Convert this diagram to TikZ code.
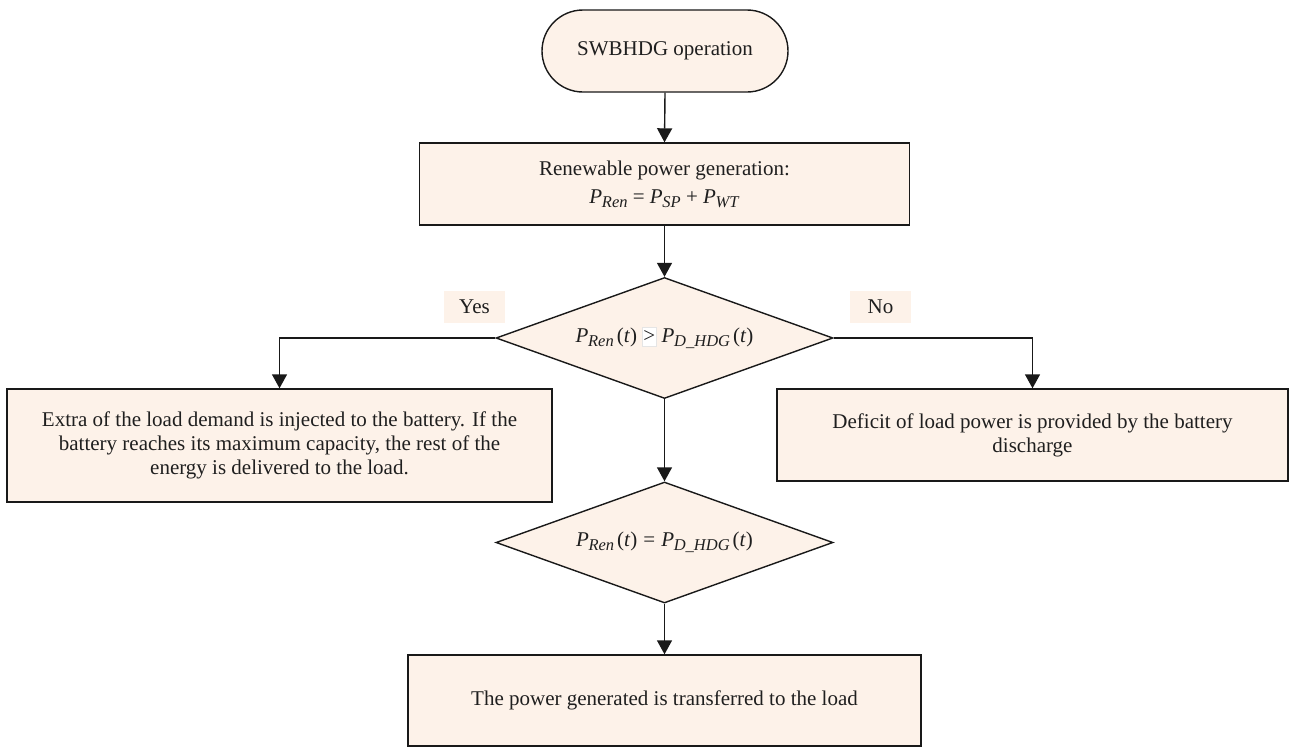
\documentclass[tikz,border=0pt]{standalone}
\usepackage{fontspec}
\setmainfont{Liberation Serif}
\usetikzlibrary{shapes.geometric,shapes.misc,arrows.meta}
\definecolor{peach}{RGB}{253,242,233}
\newcommand\Pv[1]{\textit{P}\kern-0.3pt\raisebox{-0.4ex}{\fontsize{16.5}{16.5}\selectfont\textit{#1}}}
\begin{document}
\begin{tikzpicture}[x=1pt,y=-1pt,
  every node/.style={font=\fontsize{21}{24}\selectfont, text=black!88},
  shp/.style={draw=black!90, line width=1.4pt, fill=peach, inner sep=0pt, align=center},
  proc/.style={shp, rectangle},
  dec/.style={shp, diamond, aspect=2.78},
  term/.style={shp, rounded rectangle},
  lbl/.style={fill=peach, inner sep=0pt, minimum width=61, minimum height=32},
  arr/.style={line width=1.4pt, draw=black!90, -{Triangle[length=14pt,width=15pt]}}]
\useasboundingbox (0,0) rectangle (1289,747);
\node[term, minimum width=246, minimum height=82] (start) at (665,51) {SWBHDG operation};
\node[proc, minimum width=490, minimum height=82] (ren) at (664.5,184)
  {Renewable power generation:\\[4pt] \Pv{Ren} = \Pv{SP} + \Pv{WT}};
\node[dec, minimum width=337, minimum height=121] (d1) at (664.5,338)
  {\Pv{Ren}\hspace{3pt}(\textit{t})\hspace{5pt}\fcolorbox{black!10}{white}{\kern-2pt>\kern-2pt}\hspace{5pt}\Pv{D\_HDG}\hspace{3pt}(\textit{t})};
\node[lbl] (yes) at (474.5,307) {Yes};
\node[lbl] (no) at (880.5,307) {No};
\node[proc, minimum width=545, minimum height=113] (left) at (279.5,445.5)
  {Extra of the load demand is injected to the battery. If the\\ battery reaches its maximum capacity, the rest of the\\ energy is delivered to the load.};
\node[proc, minimum width=511, minimum height=92] (right) at (1032.5,435)
  {Deficit of load power is provided by the battery\\ discharge};
\node[dec, minimum width=337, minimum height=121] (d2) at (664.5,542.5)
  {\Pv{Ren}\hspace{3pt}(\textit{t})\hspace{6pt}=\hspace{6pt}\Pv{D\_HDG}\hspace{3pt}(\textit{t})};
\node[proc, minimum width=513, minimum height=91] (end) at (664.5,700.5)
  {The power generated is transferred to the load};
\draw[arr] (start.south) -- (ren.north);
\draw[arr] (ren.south) -- (d1.north);
\draw[arr] (d1.west) -| (left.north);
\draw[arr] (d1.east) -| (right.north);
\draw[arr] (d1.south) -- (d2.north);
\draw[arr] (d2.south) -- (end.north);
\end{tikzpicture}
\end{document}
